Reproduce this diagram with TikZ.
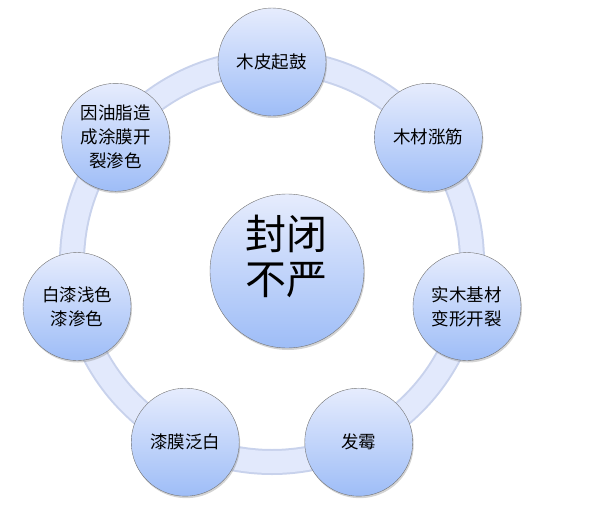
\documentclass[tikz,border=0pt]{standalone}
\usepackage{fontspec}
\newfontfamily\cjk{Noto Sans CJK SC}
\usepackage{tikz}
\usetikzlibrary{shadows,calc}

\definecolor{ballTop}{RGB}{230,236,253}
\definecolor{ballBot}{RGB}{158,189,247}
\definecolor{ringFill}{RGB}{226,233,252}
\definecolor{ringEdge}{RGB}{200,210,236}

\begin{document}
\begin{tikzpicture}[
    x=1pt, y=1pt,
    basecircle/.style={
        circle,
        draw=black!55,
        thin,
        top color=ballTop,
        bottom color=ballBot,
        align=center,
        inner sep=0pt,
        drop shadow={opacity=0.35, shadow xshift=1pt, shadow yshift=-2pt}
    },
    % outer ring of causes
    causeball/.style={basecircle, minimum size=108pt,
        font=\cjk\fontsize{17.5}{24}\selectfont},
    % centre
    coreball/.style={basecircle, minimum size=154pt,
        font=\cjk\fontsize{41}{45}\selectfont}
]
\useasboundingbox (-272,-266) rectangle (341,262);

% Ring
\coordinate (ring) at (0,0);
\draw[line width=26pt, draw=ringEdge] (ring) circle (200);
\draw[line width=22pt, draw=ringFill] (ring) circle (200);

% Nodes
\node[coreball] (core) at (15,-9) {封闭\\不严\\[-12pt]\mbox{}};

\node[causeball] (c1) at ($(ring)+(90:200)$) {木皮起鼓};
\node[causeball] (c2) at ($(ring)+(38.57:200)$) {木材涨筋};
\node[causeball] (c3) at ($(ring)+(-12.86:200)$) {实木基材\\变形开裂};
\node[causeball] (c4) at ($(ring)+(-64.29:200)$) {发霉};
\node[causeball] (c5) at ($(ring)+(-115.71:200)$) {漆膜泛白};
\node[causeball] (c6) at ($(ring)+(-167.14:200)$) {白漆浅色\\漆渗色};
\node[causeball] (c7) at ($(ring)+(141.43:200)$) {因油脂造\\成涂膜开\\裂渗色};

\end{tikzpicture}
\end{document}
